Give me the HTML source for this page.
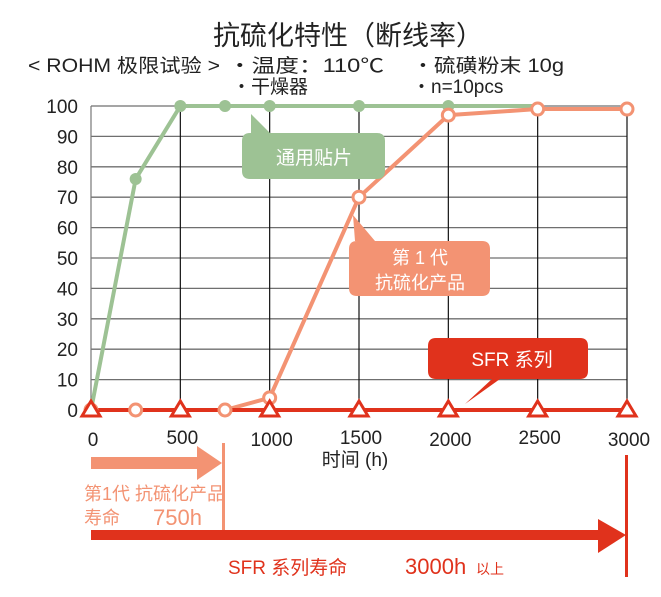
<!DOCTYPE html>
<html><head><meta charset="utf-8"><style>
body{margin:0;background:#fff;}
svg{display:block;font-family:"Liberation Sans","Noto Sans CJK SC",sans-serif;}
</style></head><body>
<svg width="661" height="597" viewBox="0 0 661 597" xmlns="http://www.w3.org/2000/svg">
<text x="348" y="45" font-size="27" text-anchor="middle" fill="#222">抗硫化特性（断线率）</text>
<text x="28" y="72" font-size="19" fill="#222" textLength="192" lengthAdjust="spacingAndGlyphs">&lt; ROHM 极限试验 &gt;</text>
<text x="228" y="72" font-size="19" fill="#222" textLength="156" lengthAdjust="spacingAndGlyphs">・温度：110℃</text>
<text x="412" y="72" font-size="19" fill="#222" textLength="152" lengthAdjust="spacingAndGlyphs">・硫磺粉末 10g</text>
<text x="232" y="93" font-size="19" fill="#222">・干燥器</text>
<text x="412" y="93" font-size="19" fill="#222">・n=10pcs</text>
<g id="grid"></g>
<g id="series"></g>
<g>
<path d="M251,114 L270,133 L377,133 Q385,133 385,141 L385,171 Q385,179 377,179 L250,179 Q242,179 242,171 L242,141 Q242,133 250,133 L251,133 Z" fill="#9dc294"/>
<text x="314" y="164" font-size="19" fill="#fff" text-anchor="middle">通用贴片</text>
</g>
<g>
<path d="M353,215 L375,241 L482,241 Q490,241 490,249 L490,288 Q490,296 482,296 L357,296 Q349,296 349,288 L349,249 Q349,241 357,241 L355,241 Z" fill="#f39373"/>
<text x="420" y="264" font-size="18" fill="#fff" text-anchor="middle">第 1 代</text>
<text x="420" y="289" font-size="18" fill="#fff" text-anchor="middle">抗硫化产品</text>
</g>
<g>
<path d="M465,404 L492,379 L436,379 Q428,379 428,371 L428,346 Q428,338 436,338 L580,338 Q588,338 588,346 L588,371 Q588,379 580,379 L500,379 Z" fill="#e0321c"/>
<text x="512" y="366" font-size="19" fill="#fff" text-anchor="middle">SFR 系列</text>
</g>
<text x="355" y="466" font-size="19" fill="#222" text-anchor="middle">时间 (h)</text>
<g>
<rect x="91" y="457" width="110" height="12" fill="#f39373"/>
<polygon points="197,446 222,463 197,480" fill="#f39373"/>
<rect x="222" y="443" width="3" height="92" fill="#f39373"/>
<text x="84" y="500" font-size="18" fill="#f39373">第1代 抗硫化产品</text>
<text x="84" y="524" font-size="18" fill="#f39373">寿命</text>
<text x="153" y="525" font-size="22" fill="#f39373">750h</text>
</g>
<g>
<rect x="91" y="530" width="510" height="10" fill="#e0321c"/>
<polygon points="598,519 626,535 598,553" fill="#e0321c"/>
<rect x="625" y="455" width="3" height="122" fill="#e0321c"/>
<text x="228" y="574" font-size="19" fill="#e0321c">SFR 系列寿命</text>
<text x="405" y="574" font-size="22" fill="#e0321c">3000h</text>
<text x="476" y="574" font-size="14" fill="#e0321c">以上</text>
</g>
<script>
const xTicks=[0,500,1000,1500,2000,2500,3000];
const yTicks=[0,10,20,30,40,50,60,70,80,90,100];
const generalX=[0,250,500,750,1000,1500,2000,2500];
const generalY=[0,76,100,100,100,100,100,100];
const generalMarkers=[0,250,500,750,1000,1500,2000];
const firstGenX=[0,250,750,1000,1500,2000,2500,3000];
const firstGenY=[0,0,0,4,70,97,99,99];
const sfrX=[0,500,1000,1500,2000,2500,3000];
const sfrY=[0,0,0,0,0,0,0];
const X0=91,X1=627,Y0=410,Y1=106;
const sx=v=>X0+(v/3000)*(X1-X0);
const sy=v=>Y0-(v/100)*(Y0-Y1);
const NS='http://www.w3.org/2000/svg';
function mk(t,a,p){const e=document.createElementNS(NS,t);for(const k in a)e.setAttribute(k,a[k]);p.appendChild(e);return e;}
const g=document.getElementById('grid');
yTicks.forEach(v=>{
 const l=mk('line',{x1:X0,x2:X1,y1:sy(v),y2:sy(v),stroke:'#6f6f6f','stroke-width':1.3},g);
 
 
 const t=mk('text',{x:78,y:sy(v)+7,'font-size':19,'text-anchor':'end',fill:'#222'},g);
 t.textContent=v;
 
 
});
xTicks.forEach((v,i)=>{
 const l=mk('line',{x1:sx(v),x2:sx(v),y1:Y1,y2:Y0,stroke:i==0?'#777':'#111','stroke-width':1.2},g);
 
 
 const t=mk('text',{x:sx(v)+2,y:i%2?444:446,'font-size':19,'text-anchor':'middle',fill:'#222'},g);
 t.textContent=v;
 
 
});
const s=document.getElementById('series');
function line(xs,ys,c,name){
 const p=mk('polyline',{points:xs.map((x,i)=>sx(x)+','+sy(ys[i])).join(' '),fill:'none',stroke:c,'stroke-width':4,'stroke-linejoin':'round'},s);
 
 
}
line(generalX,generalY,'#9dc294','general-chip-line');
line(firstGenX,firstGenY,'#f39373','first-gen-line');
line(sfrX,sfrY,'#e0321c','sfr-line');
generalMarkers.forEach(x=>{
 const i=generalX.indexOf(x);
 const c=mk('circle',{cx:sx(x),cy:sy(generalY[i]),r:6,fill:'#9dc294'},s);
 
 
});
firstGenX.forEach((x,i)=>{
 const c=mk('circle',{cx:sx(x),cy:sy(firstGenY[i]),r:6,fill:'#fff',stroke:'#f39373','stroke-width':3},s);
 
 
});
sfrX.forEach((x,i)=>{
 const cx=sx(x),cy=sy(sfrY[i]);
 const p=mk('polygon',{points:`${cx},${cy-9} ${cx-9},${cy+6} ${cx+9},${cy+6}`,fill:'#fff',stroke:'#e0321c','stroke-width':3,'stroke-linejoin':'miter'},s);
 
 
});
</script>
</svg>
</body></html>
